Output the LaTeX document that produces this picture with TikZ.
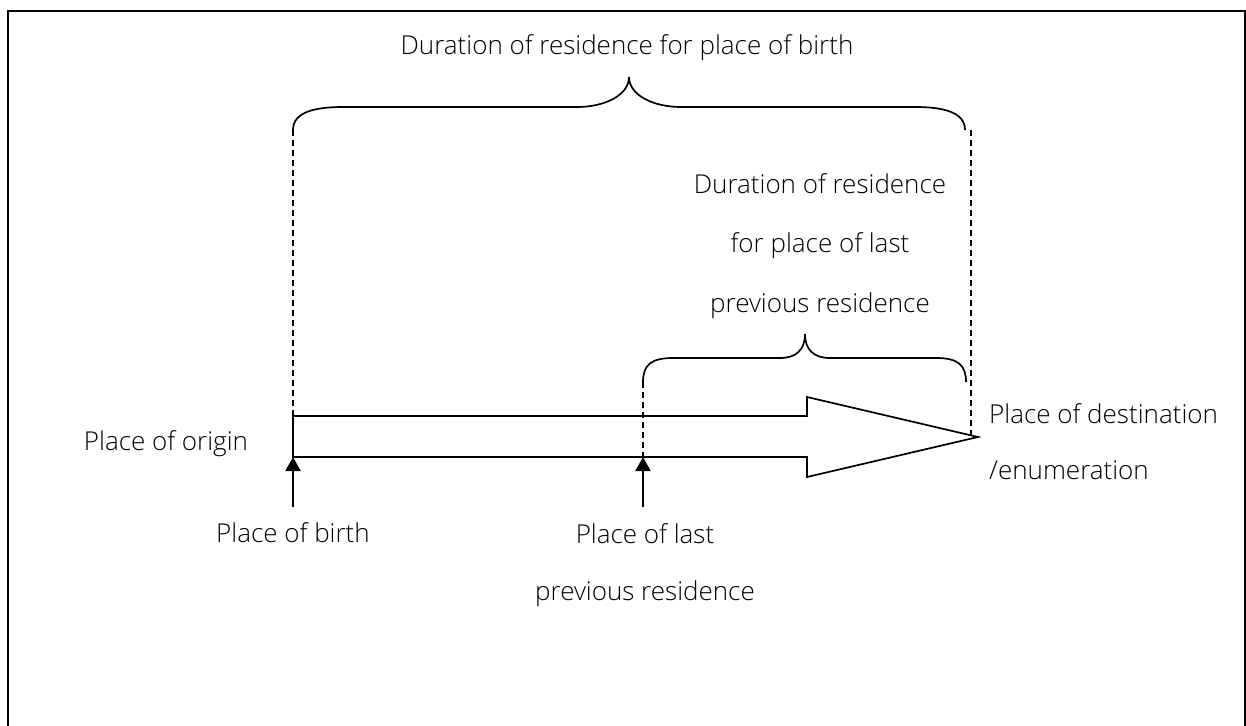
\documentclass[tikz,border=0pt]{standalone}
\usepackage{fontspec}
\setmainfont{Open Sans}[UprightFont=* Light]
\usetikzlibrary{arrows.meta}
\begin{document}
\begin{tikzpicture}[x=1pt,y=-1pt,
  ln/.style={line width=1.7pt,black},
  dsh/.style={line width=1.7pt,dash pattern=on 6pt off 4pt},
  upar/.style={line width=2pt,-{Triangle[width=15pt,length=14pt]}},
  lbl/.style={font=\fontsize{26}{58}\selectfont,inner sep=0pt,align=center}]
\useasboundingbox (0,0) rectangle (1246,725);
\draw[line width=1.8pt] (8,740) -- (8,11) -- (1245,11) -- (1245,740);
% main arrow
\draw[ln,line join=miter] (293,416) -- (807,416) -- (807,397) -- (978,437) -- (807,477) -- (807,457) -- (293,457) -- cycle;
% dashed guides
\coordinate (b1) at (293,130);
\coordinate (b1a) at (293,416);
\coordinate (b2) at (965,130);
\coordinate (tip) at (971,437);
\coordinate (s1) at (643,382);
\coordinate (s1a) at (643,457);
\coordinate (s2) at (966,382);
\draw[dsh] (b1) -- (b1a);
\draw[dsh] (s1) -- (s1a);
\draw[dsh] (971,130) -- (tip);
% big brace
\draw[ln] (b1) .. controls (293,112) and (315,107) .. (343,107) -- (577,107)
  .. controls (605,107) and (629,95) .. (629,77)
  .. controls (629,95) and (653,107) .. (681,107) -- (915,107)
  .. controls (943,107) and (965,112) .. (b2);
% small brace
\draw[ln] (s1) .. controls (643,365) and (651,358) .. (673,358) -- (780,358)
  .. controls (796,358) and (805,350) .. (805,334)
  .. controls (805,350) and (814,358) .. (830,358) -- (936,358)
  .. controls (958,358) and (966,365) .. (s2);
% labels
\node[lbl] (tbig) at (627,48) {Duration of residence for place of birth};
\node[lbl,font=\fontsize{26}{59.5}\selectfont] (tsmall) at (820,246) {Duration of residence\\for place of last\\previous residence};
\node[lbl] (orig) at (166,444) {Place of origin};
\node[lbl] (birth) at (293,533) {Place of birth};
\node[lbl,font=\fontsize{26}{57}\selectfont] (last) at (645,565) {Place of last\\previous residence};
\node[lbl,anchor=west,align=left,font=\fontsize{26}{56}\selectfont] (dest) at (989,442) {Place of destination\\/enumeration};
% up arrows
\coordinate (a1s) at (293,507);
\coordinate (a2s) at (643,507);
\draw[upar] (a1s) -- (293,457);
\draw[upar] (a2s) -- (s1a);
\end{tikzpicture}
\end{document}
